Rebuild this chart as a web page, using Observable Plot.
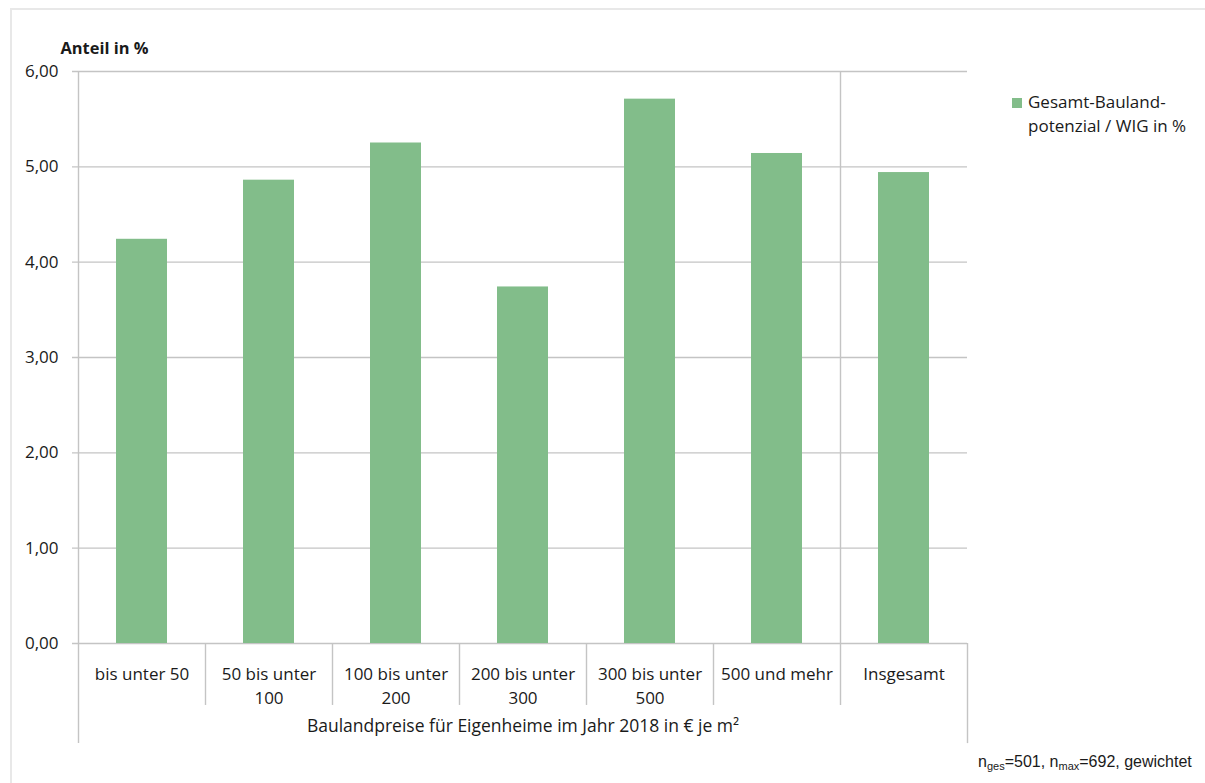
<!DOCTYPE html>
<html>
<head>
<meta charset="utf-8">
<script src="https://cdn.jsdelivr.net/npm/d3@7"></script>
<script src="https://cdn.jsdelivr.net/npm/@observablehq/plot@0.6"></script>
<style>
  body { margin: 0; background: #fff; overflow: hidden; }
  #wrap { position: relative; width: 1205px; height: 783px; overflow: hidden; font-family: "Open Sans", sans-serif; }
  #topline { position: absolute; left: 10px; top: 8px; width: 1195px; height: 2px; background: #e8e8e8; }
  #leftline { position: absolute; left: 10px; top: 8px; width: 2px; height: 775px; background: #e8e8e8; }
  #chart { position: absolute; left: 0; top: 0; }
  #legend { position: absolute; left: 1012px; top: 90px; font-size: 17px; line-height: 24px; color: #1a1a1a; }
  #legend .sw { position: absolute; left: 0; top: 8px; width: 10px; height: 10px; background: #82bd8a; }
  #legend .tx { position: absolute; left: 16px; top: 0; white-space: nowrap; }
  #foot { position: absolute; left: 978px; top: 753px; font-family: "Liberation Sans", Arial, sans-serif; font-size: 16px; color: #1a1a1a; white-space: nowrap; }
  #foot sub { font-size: 11px; vertical-align: -3px; line-height: 0; }
</style>
</head>
<body>
<div id="wrap">
  <div id="topline"></div>
  <div id="leftline"></div>
  <div id="chart"></div>
  <div id="legend"><div class="sw"></div><div class="tx">Gesamt-Bauland-<br>potenzial / WIG in %</div></div>
  <div id="foot">n<sub>ges</sub>=501, n<sub>max</sub>=692, gewichtet</div>
</div>
<script>
const categories = ["bis unter 50", "50 bis unter 100", "100 bis unter 200", "200 bis unter 300", "300 bis unter 500", "500 und mehr", "Insgesamt"];
const tickLabels = ["bis unter 50", "50 bis unter\n100", "100 bis unter\n200", "200 bis unter\n300", "300 bis unter\n500", "500 und mehr", "Insgesamt"];
const values = [4.24, 4.86, 5.25, 3.74, 5.71, 5.14, 4.94];
const yTicks = [0, 1, 2, 3, 4, 5, 6];
const yLabel = "Anteil in %";
const xLabel = "Baulandpreise für Eigenheime im Jahr 2018 in € je m²";

const data = categories.map((c, i) => ({category: c, value: values[i]}));

const W = 1205, H = 783, ML = 78, MR = 238, MT = 71, MB = 140;
const step = (W - ML - MR) / categories.length;
const lineColor = "#c4c4c4";
const textColor = "#1a1a1a";

const chart = Plot.plot({
  width: W,
  height: H,
  marginLeft: ML,
  marginRight: MR,
  marginTop: MT,
  marginBottom: MB,
  style: {fontFamily: "'Open Sans', sans-serif", fontSize: "17px", color: textColor, background: "transparent"},
  x: {domain: categories, paddingInner: 0.6, paddingOuter: 0.3, axis: null},
  y: {domain: [0, 6], axis: null},
  marks: [
    Plot.ruleY(yTicks, {stroke: lineColor, strokeWidth: 1.4, insetLeft: -6}),
    // left axis line
    Plot.ruleX([categories[0]], {x: d => d, dx: -step / 2, y1: 6, y2: -1.05, stroke: lineColor, strokeWidth: 1.4}),
    // category separators below the axis
    Plot.ruleX(categories.slice(1, -1), {x: d => d, dx: -step / 2, y1: 0, y2: -0.65, stroke: lineColor, strokeWidth: 1.4}),
    // separator before "Insgesamt" (full height)
    Plot.ruleX([categories[categories.length - 1]], {x: d => d, dx: -step / 2, y1: 6, y2: -0.65, stroke: lineColor, strokeWidth: 1.4}),
    // right end line
    Plot.ruleX([categories[categories.length - 1]], {x: d => d, dx: step / 2, y1: 0, y2: -1.05, stroke: lineColor, strokeWidth: 1.4}),
    Plot.barY(data, {x: "category", y: "value", fill: "#82bd8a"}),
    Plot.axisY(yTicks, {tickSize: 0, tickPadding: 20, label: null, fill: textColor, fontSize: 17,
      tickFormat: d => d.toFixed(2).replace(".", ",")}),
    Plot.axisX({tickSize: 0, tickPadding: 19, label: null, fill: textColor, fontSize: 17, lineHeight: 1.42,
      tickFormat: d => tickLabels[categories.indexOf(d)]}),
    Plot.text([yLabel], {frameAnchor: "top-left", textAnchor: "start", dx: -18, dy: -29, fontWeight: "bold", fontSize: 16.4, fill: textColor}),
    Plot.text([xLabel], {frameAnchor: "bottom", dy: 88, fontSize: 17.5, fill: textColor})
  ]
});
document.getElementById("chart").appendChild(chart);
</script>
</body>
</html>
